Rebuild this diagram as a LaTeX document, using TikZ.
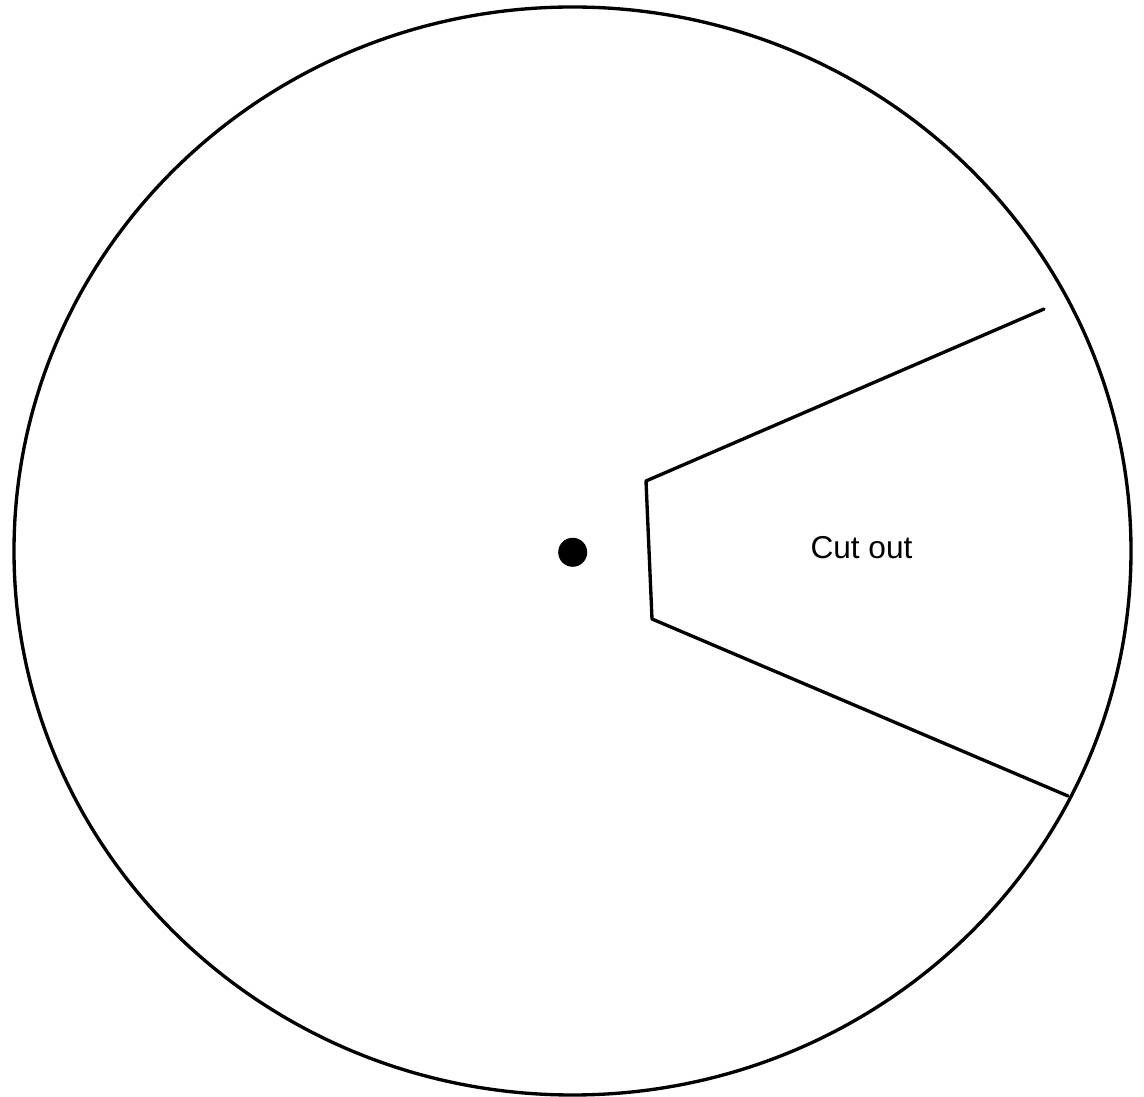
\documentclass[tikz,border=0pt]{standalone}
\usepackage{fontspec}
\setmainfont{Liberation Sans}
\begin{document}
\begin{tikzpicture}
% disc with a wedge cut out, one unit is one pixel of the drawing
\def\pxsz{0.02cm}
\providecommand{\discLineWidth}{1.9pt}
\providecommand{\discDotRadius}{14.5}
\begin{scope}[x=\pxsz, y=-\pxsz, line cap=round, line join=round]
  \useasboundingbox (0,0) rectangle (1144,1097);
  % Outer rim
  \draw[line width=\discLineWidth] (572.5,551) ellipse [x radius=558.5, y radius=544];
  % Centre hole
  \fill (572.7,552.3) circle [radius=\discDotRadius];
  \node[inner sep=0pt] (hole) at (572.7,552.3) {};
  % Edges of the cut out
  \coordinate (rimTop) at (1044,309);
  \coordinate (cutTop) at (646,481);
  \coordinate (cutBot) at (652,619);
  \coordinate (rimBot) at (1068,796);
  \draw[line width=\discLineWidth] (rimTop) -- (cutTop) -- (cutBot) -- (rimBot);
  % Label
  \node[font=\fontsize{18}{21}\selectfont, inner sep=0pt] (cutLabel) at (861.5,548) {Cut out};
\end{scope}
\end{tikzpicture}
\end{document}
